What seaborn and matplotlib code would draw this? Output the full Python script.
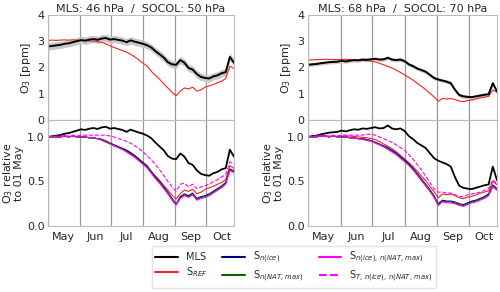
import numpy as np
import pandas as pd
import seaborn as sns
import matplotlib.pyplot as plt
import matplotlib.dates as mdates
from matplotlib.lines import Line2D

# sample dates every 4 days, 01 May -> 28 Oct
dates = pd.date_range('2011-05-01', '2011-10-28', freq='4D')

# ---- left: MLS 46 hPa / SOCOL 50 hPa ----
mls_46 = [2.80, 2.82, 2.84, 2.86, 2.90, 2.92, 2.96, 3.00, 3.04, 3.02, 3.06, 3.08, 3.05, 3.10, 3.12, 3.06,
          3.08, 3.05, 3.02, 2.96, 3.03, 2.98, 2.94, 2.90, 2.84, 2.76, 2.62, 2.50, 2.38, 2.20, 2.12, 2.10,
          2.28, 2.18, 1.98, 1.92, 1.75, 1.64, 1.60, 1.58, 1.66, 1.70, 1.78, 1.82, 2.40, 2.18]
ref_50 = [3.03, 3.04, 3.03, 3.04, 3.05, 3.04, 3.05, 3.04, 3.03, 3.02, 3.01, 3.00, 2.98, 2.95, 2.90, 2.82,
          2.76, 2.70, 2.64, 2.58, 2.50, 2.40, 2.28, 2.16, 2.05, 1.85, 1.70, 1.55, 1.38, 1.22, 1.05, 0.92,
          1.10, 1.22, 1.18, 1.25, 1.10, 1.15, 1.25, 1.30, 1.35, 1.42, 1.48, 1.58, 2.05, 1.96]
nice_50 = [1.00, 1.00, 1.00, 1.00, 1.01, 1.00, 1.01, 1.00, 1.00, 1.00, 0.99, 0.99, 0.98, 0.97, 0.95, 0.93,
           0.91, 0.89, 0.87, 0.85, 0.82, 0.79, 0.75, 0.71, 0.67, 0.61, 0.55, 0.50, 0.44, 0.38, 0.31, 0.245,
           0.33, 0.36, 0.34, 0.37, 0.31, 0.33, 0.34, 0.36, 0.39, 0.42, 0.45, 0.49, 0.64, 0.62]
nat_50 = [1.00, 1.00, 1.00, 1.00, 1.01, 1.00, 1.01, 1.00, 1.00, 1.00, 0.99, 0.99, 0.98, 0.97, 0.95, 0.93,
          0.90, 0.88, 0.86, 0.84, 0.81, 0.78, 0.74, 0.70, 0.66, 0.60, 0.54, 0.49, 0.43, 0.37, 0.30, 0.24,
          0.32, 0.35, 0.33, 0.36, 0.30, 0.32, 0.33, 0.35, 0.38, 0.41, 0.44, 0.48, 0.63, 0.61]
nice_nat_50 = [1.00, 1.00, 1.00, 1.00, 1.01, 1.00, 1.01, 1.00, 1.00, 1.00, 0.99, 0.99, 0.98, 0.96, 0.94, 0.92,
               0.90, 0.88, 0.86, 0.83, 0.80, 0.77, 0.73, 0.69, 0.65, 0.59, 0.53, 0.48, 0.42, 0.36, 0.29, 0.235,
               0.31, 0.34, 0.32, 0.35, 0.29, 0.31, 0.32, 0.34, 0.37, 0.40, 0.43, 0.47, 0.62, 0.60]
t_nice_nat_50 = [1.00, 1.00, 1.01, 1.01, 1.01, 1.01, 1.02, 1.01, 1.02, 1.02, 1.02, 1.02, 1.02, 1.02, 1.02, 1.01,
                 1.00, 0.98, 0.97, 0.95, 0.93, 0.90, 0.87, 0.83, 0.79, 0.74, 0.69, 0.63, 0.57, 0.50, 0.44, 0.39,
                 0.47, 0.48, 0.44, 0.47, 0.42, 0.44, 0.45, 0.47, 0.50, 0.52, 0.55, 0.58, 0.72, 0.70]

# ---- right: MLS 68 hPa / SOCOL 70 hPa ----
mls_68 = [2.10, 2.12, 2.13, 2.16, 2.18, 2.20, 2.21, 2.22, 2.25, 2.23, 2.26, 2.28, 2.27, 2.30, 2.29, 2.31,
          2.33, 2.30, 2.31, 2.37, 2.30, 2.28, 2.30, 2.24, 2.12, 2.05, 1.96, 1.90, 1.84, 1.72, 1.60, 1.54,
          1.50, 1.46, 1.40, 1.15, 0.95, 0.90, 0.88, 0.87, 0.90, 0.93, 0.96, 0.98, 1.40, 1.08]
ref_70 = [2.28, 2.29, 2.30, 2.30, 2.31, 2.30, 2.30, 2.30, 2.30, 2.31, 2.30, 2.29, 2.28, 2.27, 2.26, 2.24,
          2.21, 2.16, 2.10, 2.04, 1.98, 1.90, 1.81, 1.72, 1.62, 1.52, 1.40, 1.28, 1.16, 1.02, 0.88, 0.72,
          0.82, 0.80, 0.82, 0.78, 0.72, 0.70, 0.74, 0.76, 0.80, 0.84, 0.87, 0.90, 1.14, 1.06]
nice_70 = [1.00, 1.00, 1.00, 1.01, 1.01, 1.00, 1.01, 1.00, 1.00, 1.00, 0.99, 0.99, 0.98, 0.98, 0.97, 0.96,
           0.94, 0.92, 0.90, 0.88, 0.85, 0.82, 0.78, 0.74, 0.70, 0.65, 0.59, 0.53, 0.47, 0.41, 0.34, 0.25,
           0.29, 0.28, 0.28, 0.27, 0.25, 0.24, 0.26, 0.28, 0.29, 0.31, 0.33, 0.36, 0.46, 0.42]
nat_70 = [1.00, 1.00, 1.00, 1.01, 1.01, 1.00, 1.01, 1.00, 1.00, 1.00, 0.99, 0.99, 0.98, 0.98, 0.97, 0.96,
          0.94, 0.92, 0.89, 0.87, 0.84, 0.81, 0.77, 0.73, 0.69, 0.64, 0.58, 0.52, 0.46, 0.40, 0.33, 0.24,
          0.28, 0.27, 0.27, 0.26, 0.24, 0.23, 0.25, 0.27, 0.28, 0.30, 0.32, 0.35, 0.45, 0.41]
nice_nat_70 = [1.00, 1.00, 1.00, 1.01, 1.01, 1.00, 1.01, 1.00, 1.00, 1.00, 0.99, 0.99, 0.98, 0.97, 0.96, 0.95,
               0.93, 0.91, 0.89, 0.86, 0.83, 0.80, 0.76, 0.72, 0.68, 0.63, 0.57, 0.51, 0.45, 0.39, 0.32, 0.23,
               0.27, 0.26, 0.26, 0.25, 0.23, 0.22, 0.24, 0.26, 0.27, 0.29, 0.31, 0.34, 0.44, 0.40]
t_nice_nat_70 = [1.00, 1.00, 1.01, 1.01, 1.01, 1.01, 1.02, 1.01, 1.02, 1.02, 1.02, 1.02, 1.02, 1.02, 1.03, 1.03,
                 1.02, 1.00, 0.98, 0.96, 0.94, 0.91, 0.88, 0.85, 0.80, 0.75, 0.69, 0.63, 0.56, 0.49, 0.42, 0.38,
                 0.38, 0.37, 0.37, 0.35, 0.33, 0.33, 0.35, 0.36, 0.37, 0.38, 0.40, 0.42, 0.52, 0.47]

# MLS uncertainty half-width (ppm)
mls_err_46 = 0.14
mls_err_68 = 0.07

titles = ['MLS: 46 hPa  /  SOCOL: 50 hPa', 'MLS: 68 hPa  /  SOCOL: 70 hPa']

col = {'mls': 'black', 'ref': '#ff2020', 'nice': '#000080', 'nat': '#006400', 'nn': '#ff00ff'}

sns.set_style('ticks')
plt.rcParams['font.family'] = ['DejaVu Sans']

fig = plt.figure(figsize=(5.0, 2.92), dpi=100)
lefts = [0.096, 0.616]
widths = [0.372, 0.378]

panels = [
    (mls_46, mls_err_46, ref_50, nice_50, nat_50, nice_nat_50, t_nice_nat_50),
    (mls_68, mls_err_68, ref_70, nice_70, nat_70, nice_nat_70, t_nice_nat_70),
]


def style_axis(ax, labels):
    ax.set_xlim(pd.Timestamp('2011-05-01'), pd.Timestamp('2011-10-28'))
    ax.xaxis.set_major_locator(mdates.MonthLocator())
    ax.xaxis.set_major_formatter(plt.NullFormatter())
    ax.xaxis.set_minor_locator(mdates.MonthLocator(bymonthday=16))
    if labels:
        ax.xaxis.set_minor_formatter(mdates.DateFormatter('%b'))
    else:
        ax.xaxis.set_minor_formatter(plt.NullFormatter())
    ax.tick_params(axis='x', which='both', length=0, labelsize=8, pad=4)
    ax.tick_params(axis='y', length=0, labelsize=8, pad=2.5)
    ax.grid(axis='x', which='major', color='#999999', lw=0.9)
    for s in ax.spines.values():
        s.set_color('#bbbbbb')
        s.set_linewidth(0.8)
    ax.set_xlabel('')


for i, (mls, err, ref, nice, nat, nn, tnn) in enumerate(panels):
    mls = np.array(mls)
    ref = np.array(ref)

    ax1 = fig.add_axes([lefts[i], 0.589, widths[i], 0.36])
    ax2 = fig.add_axes([lefts[i], 0.226, widths[i], 0.363])

    # absolute ozone
    ax1.fill_between(dates, mls - err, mls + err, color='#c8c8c8', lw=0)
    sns.lineplot(x=dates, y=ref, ax=ax1, color=col['ref'], lw=0.8)
    sns.lineplot(x=dates, y=mls, ax=ax1, color=col['mls'], lw=1.4)
    ax1.set_ylim(0, 4)
    ax1.set_yticks([0, 1, 2, 3, 4])
    ax1.set_ylabel('O$_3$ [ppm]', fontsize=8, labelpad=3)
    ax1.set_title(titles[i], fontsize=8, pad=2)
    style_axis(ax1, False)

    # relative to 01 May
    sns.lineplot(x=dates, y=mls / mls[0], ax=ax2, color=col['mls'], lw=1.3)
    sns.lineplot(x=dates, y=ref / ref[0], ax=ax2, color=col['ref'], lw=0.8)
    sns.lineplot(x=dates, y=nice, ax=ax2, color=col['nice'], lw=0.8)
    sns.lineplot(x=dates, y=nat, ax=ax2, color=col['nat'], lw=0.8)
    sns.lineplot(x=dates, y=nn, ax=ax2, color=col['nn'], lw=0.8)
    sns.lineplot(x=dates, y=tnn, ax=ax2, color=col['nn'], lw=0.8, linestyle='--', dashes=(2, 1.5))
    ax2.set_ylim(0, 1.19)
    ax2.set_yticks([0.0, 0.5, 1.0])
    ax2.set_ylabel('O$_3$ relative\nto 01 May', fontsize=8, labelpad=2, linespacing=0.95)
    style_axis(ax2, True)

handles = [
    Line2D([], [], color=col['mls'], lw=1.5),
    Line2D([], [], color=col['ref'], lw=1.5),
    Line2D([], [], color=col['nice'], lw=1.5),
    Line2D([], [], color=col['nat'], lw=1.5),
    Line2D([], [], color=col['nn'], lw=1.5),
    Line2D([], [], color=col['nn'], lw=1.5, linestyle='--'),
]
names = ['MLS', 'S$_{REF}$', 'S$_{n(ice)}$', 'S$_{n(NAT,\\,max)}$',
         'S$_{n(ice),\\,n(NAT,\\,max)}$', 'S$_{T,\\,n(ice),\\,n(NAT,\\,max)}$']
fig.legend(handles, names, loc='center', bbox_to_anchor=(0.588, 0.086), ncol=3, fontsize=7,
           frameon=True, edgecolor='#dddddd', fancybox=True, handlelength=2.3,
           columnspacing=1.6, labelspacing=0.3, borderpad=0.4)

fig.savefig('out.png', dpi=100)
